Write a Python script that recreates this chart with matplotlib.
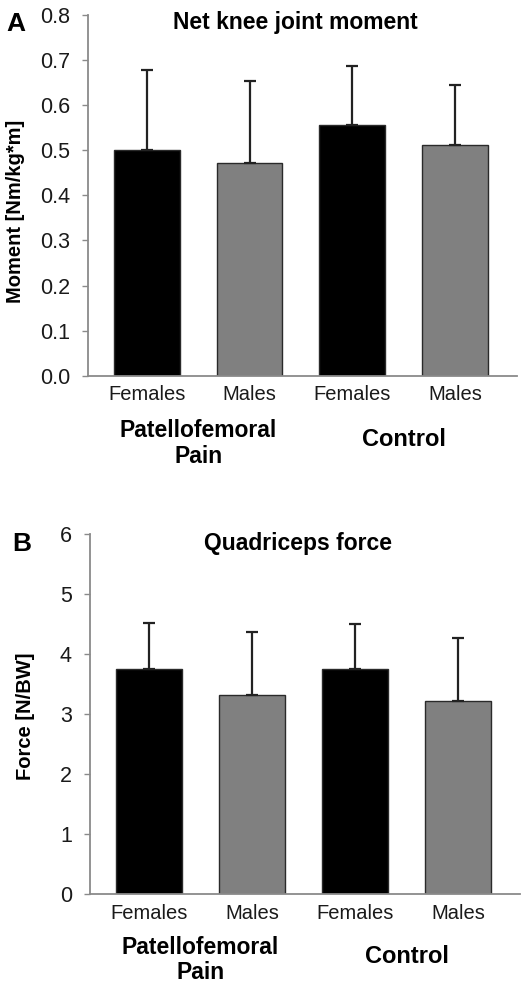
import matplotlib
matplotlib.use("Agg")
import matplotlib.pyplot as plt
import matplotlib.transforms as mtransforms
import numpy as np

plt.rcParams['font.family'] = ['Liberation Sans', 'DejaVu Sans']

categories = ["Females", "Males", "Females", "Males"]
groups = ["Patellofemoral\nPain", "Control"]
moment_mean = [0.50, 0.471, 0.557, 0.512]
moment_upper = [0.679, 0.653, 0.687, 0.645]
force_mean = [3.74, 3.32, 3.74, 3.21]
force_upper = [4.52, 4.37, 4.50, 4.27]
bar_colors = ["#000000", "#808080", "#000000", "#808080"]
moment_ticks = [0.0, 0.1, 0.2, 0.3, 0.4, 0.5, 0.6, 0.7, 0.8]
moment_ticklabels = ["0.0", "0.1", "0.2", "0.3", "0.4", "0.5", "0.6", "0.7", "0.8"]
force_ticks = [0, 1, 2, 3, 4, 5, 6]

W, H = 525, 990
fig = plt.figure(figsize=(W / 100, H / 100), dpi=100)


def make_panel(rect, means, uppers, ticks, ticklabels, ylim, title, ylabel,
               letter, letter_xy, title_y, group_y, ylabel_xy):
    ax = fig.add_axes(rect)
    x = np.arange(len(categories))
    ax.bar(x, means, width=0.64, color=bar_colors, edgecolor="#2a2a2a",
           linewidth=1.0, zorder=2)
    err = np.array(uppers) - np.array(means)
    ax.errorbar(x, means, yerr=[np.zeros_like(err), err], fmt="none",
                ecolor="#222222", elinewidth=1.6, capsize=4, capthick=1.6,
                zorder=3)
    ax.set_xlim(-0.57, 3.6)
    ax.set_ylim(*ylim)
    ax.set_yticks(ticks)
    ax.set_yticklabels(ticklabels, fontsize=15.5, color="#1a1a1a")
    ax.set_xticks(x)
    ax.set_xticklabels(categories, fontsize=14.5, color="#1a1a1a")
    for s in ["top", "right"]:
        ax.spines[s].set_visible(False)
    for s in ["left", "bottom"]:
        ax.spines[s].set_color("#8a8a8a")
        ax.spines[s].set_linewidth(1.3)
    ax.tick_params(axis="y", length=4, width=1, color="#8a8a8a", pad=9)
    ax.tick_params(axis="x", length=0, pad=7)
    ax.set_ylabel(ylabel, fontsize=14.5, fontweight="bold")
    ax.yaxis.set_label_coords(*ylabel_xy)
    ax.text(0.483, title_y, title, transform=ax.transAxes, ha="center",
            va="center", fontsize=16.5, fontweight="bold")
    trans = mtransforms.blended_transform_factory(ax.transData, ax.transAxes)
    ax.text(0.5, group_y[0], groups[0], transform=trans, ha="center",
            va="center", fontsize=16.5, fontweight="bold", linespacing=1.15)
    ax.text(2.5, group_y[1], groups[1], transform=trans, ha="center",
            va="center", fontsize=17, fontweight="bold")
    fig.text(letter_xy[0] / W, 1 - letter_xy[1] / H, letter, ha="center",
             va="center", fontsize=19, fontweight="bold")
    return ax


# Panel A
make_panel([88 / W, 1 - 375.7 / H, 429 / W, 360.7 / H],
           moment_mean, moment_upper, moment_ticks, moment_ticklabels,
           (0, 0.8), "Net knee joint moment", "Moment [Nm/kg*m]",
           "A", (16, 24), 0.978, (-0.187, -0.178), (-0.147, 0.455))

# Panel B
make_panel([90 / W, 1 - 894 / H, 430 / W, 360.3 / H],
           force_mean, force_upper, force_ticks, [str(t) for t in force_ticks],
           (0, 6), "Quadriceps force", "Force [N/BW]",
           "B", (22, 544), 0.973, (-0.183, -0.174), (-0.128, 0.492))

fig.savefig("out.png", dpi=100)
